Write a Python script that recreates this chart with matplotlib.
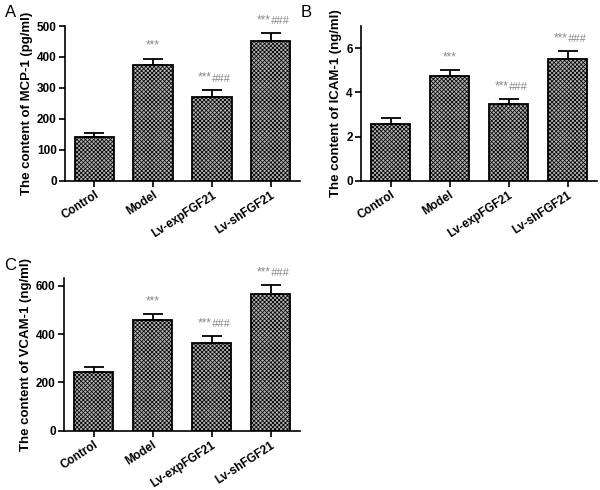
import numpy as np
import matplotlib.pyplot as plt

plt.rcParams['font.family'] = ['Liberation Sans', 'DejaVu Sans']
plt.rcParams['hatch.linewidth'] = 0.55
plt.rcParams['hatch.color'] = '#444444'

groups = ['Control', 'Model', 'Lv-expFGF21', 'Lv-shFGF21']

mcp1_mean = [140, 373, 272, 452]
mcp1_err = [15, 22, 20, 25]

icam1_mean = [2.55, 4.75, 3.47, 5.52]
icam1_err = [0.27, 0.25, 0.23, 0.36]

vcam1_mean = [243, 456, 362, 565]
vcam1_err = [20, 27, 31, 37]

stars = ['', '***', '***', '***']
hashes = ['', '', '###', '###']


def panel(ax, means, errs, ylim, yticks, ylabel, letter, offset):
    x = np.arange(len(groups))
    ax.bar(x, means, width=0.67, color='#b4b4b4', edgecolor='black',
           linewidth=1.3, hatch='xxxxxxxx', zorder=2)
    ax.errorbar(x, means, yerr=[np.zeros(len(errs)), errs], fmt='none',
                ecolor='black', elinewidth=1.3, capsize=7, capthick=1.3, zorder=3)
    for i in range(len(groups)):
        if not stars[i]:
            continue
        top = means[i] + errs[i] + offset
        ax.text(i, top, stars[i], ha='center' if not hashes[i] else 'right',
                va='bottom', fontsize=8.5, color='#8a8a8a')
        if hashes[i]:
            ax.text(i, top, hashes[i], ha='left', va='bottom', fontsize=8,
                    color='#8a8a8a', style='italic')
    ax.set_xlim(-0.5, 3.5)
    ax.set_ylim(*ylim)
    ax.set_yticks(yticks)
    ax.set_xticks(x)
    ax.set_xticklabels(groups, rotation=33, ha='right', rotation_mode='anchor',
                       fontsize=8.5, fontweight='bold')
    for lab in ax.get_yticklabels():
        lab.set_fontweight('bold')
        lab.set_fontsize(8.5)
    ax.set_ylabel(ylabel, fontsize=9.5, fontweight='bold', labelpad=3)
    ax.spines['top'].set_visible(False)
    ax.spines['right'].set_visible(False)
    ax.spines['left'].set_linewidth(1.2)
    ax.spines['bottom'].set_linewidth(1.2)
    ax.tick_params(axis='both', width=1.2, length=4, pad=2)
    ax.figure.text(ax.get_position().x0 - 0.1, ax.get_position().y1 + 0.012,
                   letter, fontsize=12, ha='left', va='bottom')


fig = plt.figure(figsize=(6, 4.9), dpi=100)
axA = fig.add_axes([0.1083, 0.6312, 0.3917, 0.3157])
axB = fig.add_axes([0.6017, 0.6312, 0.3933, 0.3153])
axC = fig.add_axes([0.1067, 0.121, 0.3933, 0.3108])

panel(axA, mcp1_mean, mcp1_err, (0, 500), [0, 100, 200, 300, 400, 500],
      'The content of MCP-1 (pg/ml)', 'A', 22)
panel(axB, icam1_mean, icam1_err, (0, 7), [0, 2, 4, 6],
      'The content of ICAM-1 (ng/ml)', 'B', 0.3)
panel(axC, vcam1_mean, vcam1_err, (0, 630), [0, 200, 400, 600],
      'The content of VCAM-1 (ng/ml)', 'C', 28)

fig.savefig('out.png', dpi=100)
